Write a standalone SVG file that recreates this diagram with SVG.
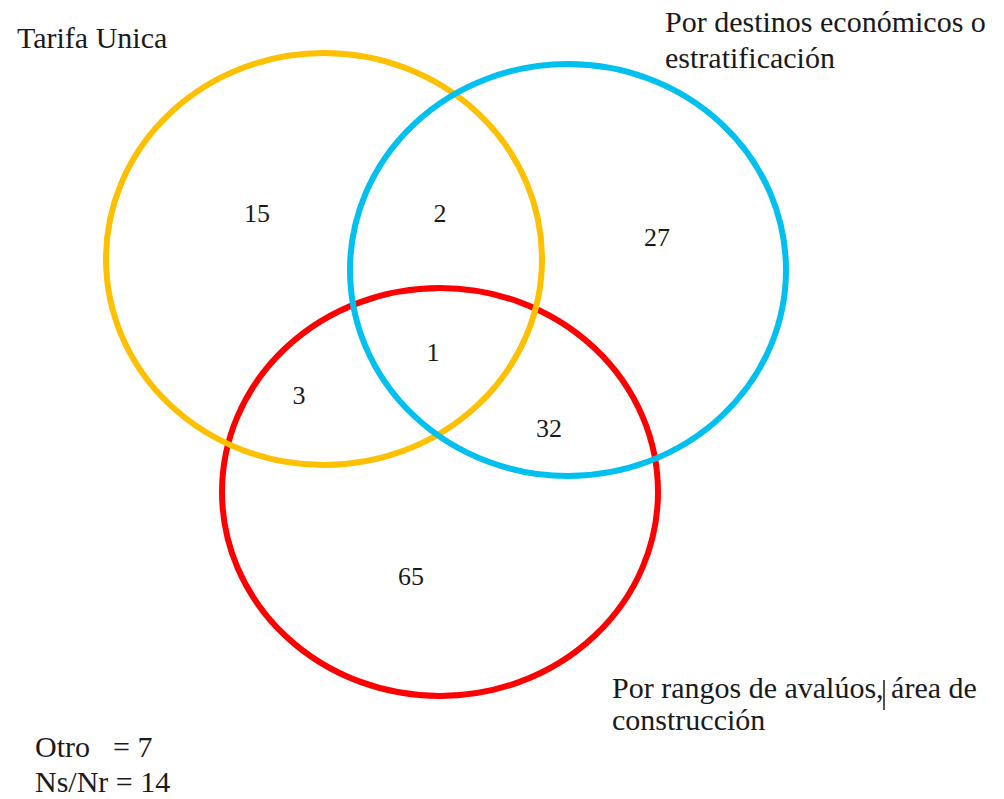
<svg xmlns="http://www.w3.org/2000/svg" width="1004" height="799" viewBox="0 0 1004 799">
<style>
.c{fill:none;stroke-width:6}
.t{font-family:"Liberation Serif","Times New Roman",serif;font-size:30px;fill:#1a1a1a}
.n{font-family:"Liberation Serif","Times New Roman",serif;font-size:26px;fill:#1a1a1a;text-anchor:middle}
</style>
<rect width="1004" height="799" fill="#ffffff"/>
<g id="sets">
<g id="red"><ellipse class="c" cx="440" cy="492" rx="218" ry="204" stroke="#ff0000"/></g>
<g id="yellow"><ellipse class="c" cx="324" cy="259" rx="218" ry="206" stroke="#ffc000"/></g>
<g id="blue"><ellipse class="c" cx="568" cy="270" rx="218" ry="206" stroke="#00c0f0"/></g>
</g>
<g id="labels">
<text class="t" x="17" y="48">Tarifa Unica</text>
<text class="t" x="665" y="32">Por destinos económicos o</text>
<text class="t" x="665" y="68">estratificación</text>
<text class="t" x="612" y="698">Por rangos de avalúos, área de</text>
<text class="t" x="612" y="730">construcción</text>
<line x1="884" y1="680" x2="884" y2="710" stroke="#1a1a1a" stroke-width="1.5"/>
<text class="t" x="35" y="757">Otro</text>
<text class="t" x="113" y="757">= 7</text>
<text class="t" x="35" y="792">Ns/Nr = 14</text>
</g>
<g id="counts">
<text class="n" x="257" y="222">15</text>
<text class="n" x="440" y="222">2</text>
<text class="n" x="657" y="246">27</text>
<text class="n" x="433" y="361">1</text>
<text class="n" x="299" y="404">3</text>
<text class="n" x="549" y="437">32</text>
<text class="n" x="411" y="585">65</text>
</g>
</svg>
